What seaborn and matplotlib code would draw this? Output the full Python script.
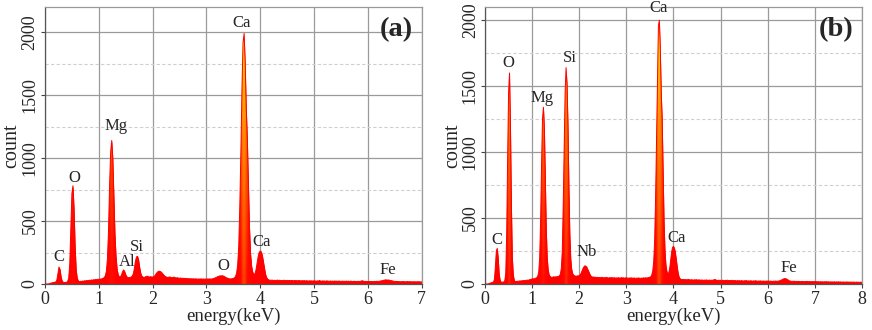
import numpy as np
import pandas as pd
import seaborn as sns
import matplotlib
matplotlib.use("Agg")
import matplotlib.pyplot as plt
from matplotlib.colors import LinearSegmentedColormap, Normalize
from matplotlib.ticker import MultipleLocator

# EDS spectra, one count per 0.02 keV channel starting at 0 keV
channel_kev = 0.02

counts_a = [
    0, 0, 0, 0, 2, 5, 8, 10, 12, 14,
    16, 30, 80, 135, 115, 55, 22, 14, 12, 12,
    14, 20, 45, 160, 450, 720, 780, 600, 300, 110,
    45, 25, 18, 22, 20, 24, 22, 26, 24, 28,
    26, 30, 28, 32, 30, 34, 32, 36, 34, 38,
    36, 40, 38, 42, 46, 50, 65, 100, 200, 420,
    780, 1050, 1140, 1000, 700, 400, 220, 120, 75, 58,
    55, 70, 95, 112, 100, 75, 58, 52, 50, 52,
    55, 62, 80, 120, 180, 215, 220, 190, 130, 85,
    62, 55, 52, 55, 60, 62, 58, 55, 58, 56,
    55, 58, 65, 78, 90, 98, 102, 100, 95, 85,
    75, 65, 58, 55, 52, 54, 56, 52, 50, 52,
    55, 50, 48, 50, 47, 45, 48, 44, 46, 43,
    45, 42, 44, 41, 43, 40, 42, 40, 42, 39,
    41, 40, 38, 40, 39, 41, 38, 40, 38, 40,
    38, 40, 39, 41, 38, 40, 42, 45, 48, 52,
    56, 60, 63, 65, 64, 66, 62, 58, 52, 48,
    45, 42, 40, 41, 42, 45, 48, 60, 85, 150,
    300, 620, 1050, 1550, 1920, 1990, 1750, 1400, 1150, 800,
    450, 240, 140, 95, 75, 80, 110, 160, 215, 250,
    262, 255, 225, 175, 120, 75, 50, 38, 32, 30,
    29, 31, 28, 30, 27, 29, 31, 28, 30, 27,
    29, 27, 30, 28, 26, 29, 27, 28, 26, 28,
    27, 25, 28, 26, 27, 25, 28, 26, 24, 27,
    25, 27, 24, 26, 25, 23, 26, 24, 25, 23,
    26, 24, 22, 25, 23, 28, 24, 22, 25, 23,
    24, 22, 25, 23, 21, 24, 22, 23, 21, 24,
    22, 23, 21, 24, 22, 20, 23, 21, 22, 20,
    23, 21, 22, 20, 23, 21, 19, 22, 20, 21,
    19, 22, 20, 21, 24, 26, 22, 20, 21, 19,
    20, 18, 21, 19, 20, 18, 21, 19, 22, 20,
    21, 22, 24, 26, 28, 30, 32, 33, 31, 32,
    30, 28, 26, 24, 22, 20, 21, 19, 20, 18,
    19, 17, 20, 18, 19, 17, 18, 20, 17, 19,
    18, 16, 19, 17, 18, 16, 19, 17, 18, 16,
    17,
]

counts_b = [
    0, 0, 0, 0, 2, 5, 8, 10, 12, 15,
    35, 130, 250, 270, 200, 80, 30, 15, 14, 14,
    16, 25, 80, 380, 950, 1450, 1600, 1200, 600, 200,
    70, 30, 18, 20, 19, 22, 20, 24, 22, 25,
    24, 27, 25, 28, 27, 30, 28, 32, 34, 36,
    38, 40, 38, 42, 45, 48, 60, 90, 200, 480,
    900, 1250, 1340, 1180, 800, 420, 200, 110, 70, 58,
    52, 50, 52, 55, 52, 55, 54, 56, 58, 62,
    75, 120, 250, 600, 1050, 1450, 1640, 1520, 1220, 750,
    380, 190, 110, 80, 68, 62, 60, 58, 62, 60,
    65, 70, 82, 100, 118, 130, 138, 135, 128, 112,
    95, 78, 64, 56, 52, 54, 50, 52, 49, 51,
    48, 50, 47, 49, 51, 48, 46, 49, 47, 50,
    47, 45, 48, 46, 49, 47, 45, 48, 46, 44,
    47, 45, 48, 44, 46, 49, 45, 47, 44, 46,
    48, 45, 43, 46, 44, 47, 45, 43, 46, 44,
    42, 45, 43, 46, 44, 42, 45, 43, 47, 45,
    46, 47, 45, 48, 50, 52, 55, 70, 100, 170,
    330, 650, 1100, 1600, 1960, 2000, 1780, 1450, 1250, 850,
    470, 250, 140, 95, 78, 85, 120, 180, 240, 278,
    285, 272, 240, 185, 125, 80, 52, 40, 35, 34,
    33, 35, 32, 34, 31, 33, 35, 32, 30, 33,
    31, 29, 32, 30, 33, 31, 29, 32, 30, 28,
    31, 29, 27, 30, 28, 31, 29, 27, 30, 28,
    29, 27, 30, 32, 34, 31, 28, 26, 29, 27,
    28, 26, 29, 27, 25, 28, 26, 29, 27, 25,
    27, 25, 28, 26, 24, 27, 25, 23, 26, 24,
    25, 23, 26, 24, 22, 25, 23, 26, 24, 22,
    24, 22, 25, 23, 21, 24, 22, 25, 23, 21,
    23, 21, 24, 22, 20, 23, 21, 22, 20, 23,
    21, 23, 20, 22, 21, 19, 22, 20, 23, 21,
    21, 22, 23, 25, 28, 32, 36, 39, 41, 40,
    38, 33, 28, 24, 22, 20, 21, 19, 22, 20,
    19, 21, 18, 20, 19, 17, 20, 18, 19, 17,
    19, 18, 20, 17, 19, 18, 16, 19, 17, 18,
    17, 19, 16, 18, 17, 15, 18, 16, 17, 15,
    17, 16, 18, 15, 17, 16, 14, 17, 15, 16,
    15, 17, 14, 16, 15, 17, 14, 16, 15, 13,
    16, 14, 15, 13, 16, 14, 15, 13, 15, 14,
    13, 15, 14, 12, 15, 13, 14, 12, 14, 13,
    12,
]

# peak labels: (text, energy keV, count)
labels_a = [("C", 0.25, 215), ("O", 0.54, 840), ("Mg", 1.33, 1254),
            ("Al", 1.52, 177), ("Si", 1.71, 296), ("O", 3.32, 143),
            ("Ca", 3.66, 2074), ("Ca", 4.02, 331), ("Fe", 6.37, 111)]
labels_b = [("C", 0.25, 333), ("O", 0.49, 1672), ("Mg", 1.21, 1411),
            ("Si", 1.80, 1717), ("Nb", 2.16, 245), ("Ca", 3.68, 2096),
            ("Ca", 4.06, 346), ("Fe", 6.45, 119)]

sns.set_theme(style="white")
plt.rcParams["font.family"] = ["Liberation Serif", "DejaVu Serif"]
plt.rcParams["mathtext.fontset"] = "stix"

heat = LinearSegmentedColormap.from_list(
    "eds", [(0.0, "#ff0000"), (0.3, "#ff0a00"), (0.6, "#ff5a00"),
            (0.82, "#ff9a00"), (1.0, "#fff000")])


def draw_panel(ax, counts, xmax, ymax, labels, tag):
    energy = np.arange(len(counts)) * channel_kev
    df = pd.DataFrame({"energy": energy, "count": counts})

    fill = ax.fill_between(df["energy"], df["count"], color="#ff0d00",
                           lw=0, zorder=2)
    # colour each channel column by its height, brighter towards the top
    xs = np.linspace(0, xmax, 1600)
    ys = np.linspace(0, ymax, 500)
    col = np.interp(xs, energy, counts)
    val = 0.5 * col[None, :] + 0.5 * ys[:, None]
    im = ax.imshow(val, extent=[0, xmax, 0, ymax], origin="lower",
                   cmap=heat, norm=Normalize(0, 2000), aspect="auto",
                   interpolation="bilinear", zorder=2.1)
    im.set_clip_path(fill.get_paths()[0], ax.transData)
    sns.lineplot(data=df, x="energy", y="count", color="#ff0000", lw=0.7,
                 ax=ax, zorder=3)

    ax.set_xlim(0, xmax)
    ax.set_ylim(0, ymax)
    ax.xaxis.set_major_locator(MultipleLocator(1))
    ax.yaxis.set_major_locator(MultipleLocator(500))
    ax.yaxis.set_minor_locator(MultipleLocator(250))
    ax.set_axisbelow(True)
    ax.grid(which="major", color="#9a9a9a", lw=0.9, ls="-")
    ax.grid(which="minor", axis="y", color="#cfcfcf", lw=0.8, ls=(0, (3, 2)))
    ax.grid(which="minor", axis="x", visible=False)

    ax.tick_params(axis="both", which="major", direction="out", length=3,
                   width=0.8, color="#444444", labelsize=13, pad=1.5,
                   bottom=True, left=True)
    ax.tick_params(axis="x", pad=2)
    ax.tick_params(axis="y", which="minor", length=0)
    ax.tick_params(axis="y", labelrotation=90)
    for t in ax.get_yticklabels():
        t.set_va("center")

    for side in ["top", "right"]:
        ax.spines[side].set_color("#9a9a9a")
        ax.spines[side].set_linewidth(0.9)
    for side in ["bottom", "left"]:
        ax.spines[side].set_color("#555555")
        ax.spines[side].set_linewidth(0.9)

    ax.set_xlabel("energy(keV)", fontsize=13.5, labelpad=0)
    ax.set_ylabel("count", fontsize=14.5, labelpad=0)

    for text, x, y in labels:
        ax.text(x, y, text, fontsize=12, ha="center", va="center",
                zorder=5, clip_on=False)
    ax.text(0.932, 0.92, tag, transform=ax.transAxes, fontsize=20.5,
            fontweight="bold", ha="center", va="center", zorder=5)


fig = plt.figure(figsize=(8.72, 3.30), dpi=100)
ax_a = fig.add_axes([0.0516, 0.1394, 0.432, 0.8394])
ax_b = fig.add_axes([0.5562, 0.1394, 0.4323, 0.8394])

draw_panel(ax_a, counts_a, 7, 2200, labels_a, "(a)")
draw_panel(ax_b, counts_b, 8, 2100, labels_b, "(b)")

fig.savefig("out.png", dpi=100)
